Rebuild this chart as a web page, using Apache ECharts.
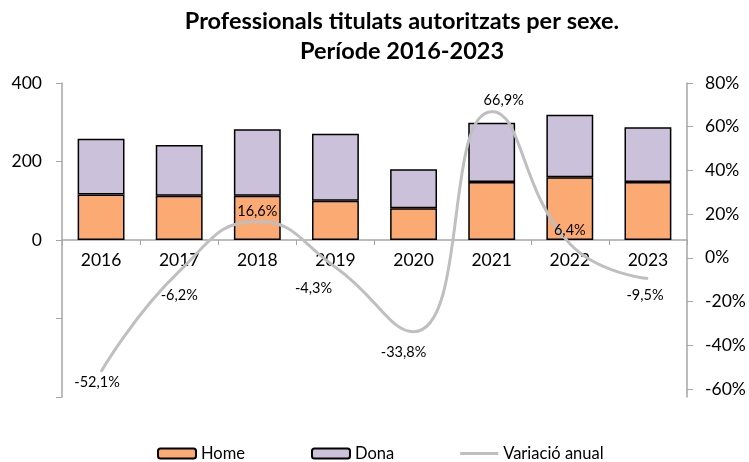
<!DOCTYPE html>
<html>
<head>
<meta charset="utf-8">
<script src="https://cdn.jsdelivr.net/npm/echarts@6/dist/echarts.min.js"></script>
<style>
  html, body { margin: 0; padding: 0; background: #fff; }
  #chart { width: 749px; height: 462px; }
</style>
</head>
<body>
<div id="chart"></div>
<script>
const years = ['2016', '2017', '2018', '2019', '2020', '2021', '2022', '2023'];
const home = [116, 113, 113, 100, 81, 148, 160, 148];
const dona = [142, 129, 169, 171, 99, 151, 159, 139];
const variacio = [-52.1, -6.2, 16.6, -4.3, -33.8, 66.9, 6.4, -9.5];
const pctTicks = [-60, -40, -20, 0, 20, 40, 60, 80];

// where each label of the line sits (Excel put them by hand)
const labelPos = [
  { position: 'bottom', offset: [-4, -2] },
  { position: 'bottom', offset: [0, 11] },
  { position: 'top', offset: [0, 3] },
  { position: 'bottom', offset: [-22, 8] },
  { position: 'bottom', offset: [-10, 8] },
  { position: 'top', offset: [12, 2] },
  { position: 'top', offset: [0, 0] },
  { position: 'bottom', offset: [-3, 4] }
];

const fmtPct = v => v.toFixed(1).replace('.', ',') + '%';
const font = 'Lato, "Open Sans", sans-serif';

const chart = echarts.init(document.getElementById('chart'));
chart.setOption({
  animation: false,
  textStyle: { fontFamily: font },
  title: {
    text: 'Professionals titulats autoritzats per sexe.\nPeríode 2016-2023',
    left: 397,
    textAlign: 'center',
    top: 1,
    textStyle: { fontSize: 23.5, fontWeight: 'bold', color: '#000', lineHeight: 30, fontFamily: font }
  },
  legend: {
    top: 440,
    left: 152,
    itemWidth: 38,
    itemHeight: 10,
    itemGap: 66,
    textStyle: { fontSize: 16.5, color: '#000', fontFamily: font },
    data: [
      'Home',
      'Dona',
      { name: 'Variació anual', icon: 'path://M0,0 L40,0 L40,3 L0,3 Z', itemStyle: { color: '#BFBFBF', borderWidth: 0 } }
    ]
  },
  grid: { left: 62, right: 62, top: 83, height: 314 },
  xAxis: {
    type: 'category',
    data: years,
    offset: -157,
    axisLine: { onZero: false, lineStyle: { color: '#a6a6a6', width: 1.5 } },
    axisTick: { show: true, length: 5, lineStyle: { color: '#a6a6a6' } },
    axisLabel: { fontSize: 17.5, color: '#000', margin: 11 }
  },
  yAxis: [
    {
      type: 'value',
      min: -400,
      max: 400,
      interval: 200,
      splitLine: { show: false },
      axisLine: { show: true, lineStyle: { color: '#a6a6a6', width: 1.5 } },
      axisTick: { show: true, length: 6, lineStyle: { color: '#a6a6a6' } },
      axisLabel: { fontSize: 17.5, color: '#000', margin: 20, formatter: v => (v >= 0 ? v : '') }
    },
    {
      type: 'value',
      min: -63.7,
      max: 80,
      splitLine: { show: false },
      axisLine: { show: true, lineStyle: { color: '#a6a6a6', width: 1.5 } },
      axisTick: { show: true, length: 6, customValues: pctTicks, lineStyle: { color: '#a6a6a6' } },
      axisLabel: { fontSize: 17.5, color: '#000', margin: 18, customValues: pctTicks, formatter: v => v + '%' }
    }
  ],
  series: [
    {
      name: 'Home',
      type: 'bar',
      stack: 'total',
      barWidth: '60%',
      data: home,
      itemStyle: { color: '#FCAA74', borderColor: '#000', borderWidth: 1.5 }
    },
    {
      name: 'Dona',
      type: 'bar',
      stack: 'total',
      data: dona,
      itemStyle: { color: '#CCC1DA', borderColor: '#000', borderWidth: 1.5 }
    },
    {
      name: 'Variació anual',
      type: 'line',
      yAxisIndex: 1,
      smooth: 0.5,
      symbol: 'circle',
      symbolSize: 1,
      showSymbol: true,
      z: 5,
      lineStyle: { color: '#BFBFBF', width: 3 },
      itemStyle: { color: '#BFBFBF' },
      data: variacio.map((v, i) => ({
        value: v,
        label: {
          show: true,
          position: labelPos[i].position,
          offset: labelPos[i].offset,
          formatter: () => fmtPct(v),
          fontSize: 14.5,
          color: '#000',
          fontFamily: font
        }
      }))
    }
  ]
});
</script>
</body>
</html>
